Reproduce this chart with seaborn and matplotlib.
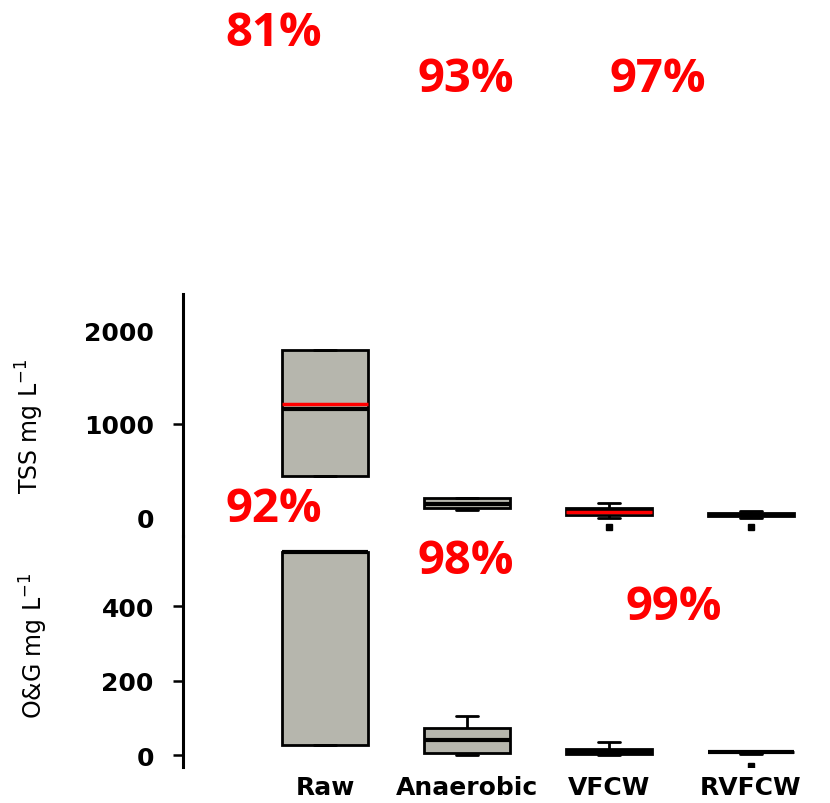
import numpy as np
import pandas as pd
import matplotlib
matplotlib.use('Agg')
import matplotlib.pyplot as plt
import seaborn as sns

# Данные
categories = ['Raw', 'Anaerobic', 'VFCW', 'RVFCW']

# TSS, мг/л (наблюдения, дающие квартили/усы как на рисунке)
tss_raw = [447, 447, 1160, 1787, 1787]
tss_anaerobic = [85, 106, 106, 149, 213, 213, 213]
tss_vfcw = [-106, 0, 32, 32, 70, 106, 106, 160, 160]
tss_rvfcw = [-106, 0, 20, 20, 32, 45, 45, 75, 75]
tss_mean = [1213, None, 64, None]

# O&G, мг/л
og_raw = [27, 27, 545, 545, 545]
og_anaerobic = [0, 5, 5, 5, 40, 72, 72, 72, 105]
og_vfcw = [0, 3, 3, 3, 9, 16, 16, 16, 35]
og_rvfcw = [-30, 4, 7, 7, 8, 9, 9, 10, 10]

# Проценты удаления
pct_labels = ['81%', '93%', '97%', '92%', '98%', '99%']
pct_xy_px = [(274, 33), (466, 80), (658, 80), (274, 510), (466, 562), (674, 608)]

box_color = '#b8b8ab'


def long_df(groups):
    rows = []
    for name, vals in zip(categories, groups):
        for v in vals:
            rows.append({'group': name, 'value': v})
    return pd.DataFrame(rows)


tss_df = long_df([tss_raw, tss_anaerobic, tss_vfcw, tss_rvfcw])
og_df = long_df([og_raw, og_anaerobic, og_vfcw, og_rvfcw])

sns.set_theme(style='white')
plt.rcParams['font.family'] = ['DejaVu Sans']
plt.rcParams['text.color'] = 'black'
plt.rcParams['xtick.color'] = 'black'
plt.rcParams['ytick.color'] = 'black'

W, H = 830, 804
fig = plt.figure(figsize=(W / 100, H / 100), dpi=100)

left = 183 / W
top_px, mid_px, bot_px = 295, 537, 768
ax_top = fig.add_axes([left, 1 - mid_px / H, 1 - left, (mid_px - top_px) / H])
ax_bot = fig.add_axes([left, 1 - bot_px / H, 1 - left, (bot_px - mid_px) / H])

box_kws = dict(x='group', y='value', order=categories, color=box_color,
               linecolor='black', linewidth=2, width=0.61, whis=1.5,
               fliersize=4, capwidths=0.15,
               flierprops=dict(marker='s', markerfacecolor='black',
                               markeredgecolor='black'),
               medianprops=dict(linewidth=3, color='black'))

sns.boxplot(data=tss_df, ax=ax_top, **box_kws)
sns.boxplot(data=og_df, ax=ax_bot, **box_kws)

# Средние значения красной линией
for i, m in enumerate(tss_mean):
    if m is not None:
        ax_top.hlines(m, i - 0.305, i + 0.305, color='red', lw=2.5, zorder=5)

for ax in (ax_top, ax_bot):
    ax.set_xlim(-1, 3.556)
    for s in ['top', 'right', 'bottom']:
        ax.spines[s].set_visible(False)
    ax.spines['left'].set_linewidth(2.2)
    ax.spines['left'].set_color('black')
    ax.set_xlabel('')
    ax.set_ylabel('')
    ax.tick_params(axis='y', left=True, direction='out', length=7, width=1.8,
                   color='black', labelcolor='black', labelsize=18, pad=14)
    ax.set_facecolor('none')

ax_top.set_ylim(-197, 2388)
ax_top.set_yticks([0, 1000, 2000])
ax_top.set_yticklabels(['0', '1000', '2000'], fontweight='bold')
yt = ax_top.yaxis.get_major_ticks()
yt[0].tick1line.set_visible(False)
yt[2].tick1line.set_visible(False)
ax_top.set_xticks([])

ax_bot.set_ylim(-32, 588)
ax_bot.set_yticks([0, 200, 400])
ax_bot.set_yticklabels(['0', '200', '400'], fontweight='bold')
ax_bot.set_xticks(range(len(categories)))
ax_bot.set_xticklabels(categories, fontsize=18, fontweight='bold')
ax_bot.tick_params(axis='x', length=0, pad=6, labelcolor='black')

fig.text(30 / W, 1 - 426 / H, 'TSS mg L$^{-1}$', rotation=90,
         ha='center', va='center', fontsize=17)
fig.text(34 / W, 1 - 646 / H, 'O&G mg L$^{-1}$', rotation=90,
         ha='center', va='center', fontsize=17)

for lab, (px, py) in zip(pct_labels, pct_xy_px):
    fig.text(px / W, 1 - py / H, lab, color='red', fontsize=34,
             fontweight='bold', family=['Open Sans', 'DejaVu Sans'],
             ha='center', va='center')

fig.savefig('out.png', dpi=100)
